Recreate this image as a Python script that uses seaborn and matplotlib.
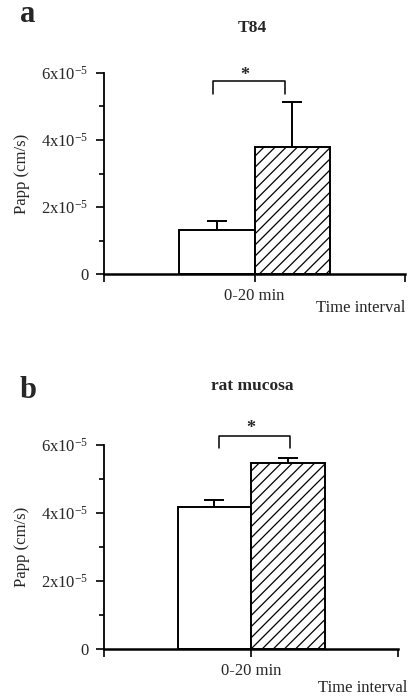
import matplotlib
matplotlib.use("Agg")
import matplotlib.pyplot as plt
from matplotlib.ticker import FixedLocator, FuncFormatter
import seaborn as sns
import pandas as pd

sns.set_theme(style="white")
plt.rcParams["font.family"] = ["Liberation Serif", "DejaVu Serif"]
plt.rcParams["mathtext.fontset"] = "custom"
plt.rcParams["mathtext.rm"] = "Liberation Serif"
plt.rcParams["mathtext.it"] = "Liberation Serif:italic"
plt.rcParams["mathtext.bf"] = "Liberation Serif:bold"
plt.rcParams["hatch.linewidth"] = 0.9

# Data: apparent permeability (Papp, cm/s) in the 0-20 min interval
interval = ["0-20 min"]
groups = ["control", "treated"]
t84_papp = [1.30e-5, 3.78e-5]
t84_sem = [0.28e-5, 1.36e-5]
rat_papp = [4.17e-5, 5.47e-5]
rat_sem = [0.21e-5, 0.15e-5]
y_major = [0, 2e-5, 4e-5, 6e-5]
y_minor = [1e-5, 3e-5, 5e-5]


def fmt(v, pos):
    if v == 0:
        return "0"
    return r"%dx10$^{\mathregular{-5}}$" % round(v / 1e-5)


def panel(ax, values, errors, title, letter, bracket, star, title_y, letter_y):
    df = pd.DataFrame({"interval": interval * 2, "group": groups, "papp": values})
    sns.barplot(data=df, x="interval", y="papp", hue="group",
                palette=["white", "white"], edgecolor="black", linewidth=1.4,
                errorbar=None, legend=False, width=0.8, ax=ax, zorder=2)
    bars = ax.patches[:2]
    bars[1].set_hatch("///")
    for p, e in zip(bars, errors):
        cx = p.get_x() + p.get_width() / 2
        ax.errorbar([cx], [p.get_height()], yerr=[[0], [e]], fmt="none",
                    ecolor="black", elinewidth=1.4, capsize=7.5, capthick=1.4,
                    zorder=1)
    # significance bracket
    cl = bars[0].get_x() + bars[0].get_width() / 2 + bracket[0]
    cr = bars[1].get_x() + bars[1].get_width() / 2 + bracket[1]
    ax.plot([cl, cl, cr, cr], [bracket[3], bracket[2], bracket[2], bracket[3]],
            color="black", lw=1.1, clip_on=False)
    ax.text(star[0], star[1], "*", ha="center", va="center", fontsize=13,
            fontweight="bold", clip_on=False)

    ax.set_xlim(-0.8, 0.8)
    ax.set_ylim(0, 6e-5)
    ax.yaxis.set_major_locator(FixedLocator(y_major))
    ax.yaxis.set_minor_locator(FixedLocator(y_minor))
    ax.yaxis.set_major_formatter(FuncFormatter(fmt))
    ax.set_xticks([-0.8, 0, 0.8])
    ax.set_xticklabels(["", interval[0], ""])
    ax.tick_params(axis="y", which="major", direction="out", length=6, width=1.2,
                   left=True, labelsize=12, pad=5, color="black")
    ax.tick_params(axis="y", which="minor", direction="out", length=3.5, width=1.2,
                   left=True, color="black")
    ax.tick_params(axis="x", direction="out", length=6, width=1.2, bottom=True,
                   labelsize=12, pad=4, color="black")
    for s in ["top", "right"]:
        ax.spines[s].set_visible(False)
    ax.spines["left"].set_linewidth(1.3)
    ax.spines["bottom"].set_linewidth(1.8)
    ax.spines["left"].set_color("black")
    ax.spines["bottom"].set_color("black")
    ax.set_xlabel("")
    ax.set_ylabel("Papp (cm/s)", fontsize=12, labelpad=8)
    ax.grid(False)

    fig = ax.figure
    fig.text(252 / 409, 1 - title_y / 700, title, ha="center", va="center",
             fontsize=12.5, fontweight="bold")
    fig.text(28 / 409, 1 - letter_y / 700, letter, ha="center", va="center",
             fontsize=22, fontweight="bold")


fig = plt.figure(figsize=(4.09, 7.0), dpi=100)
ax_a = fig.add_axes([104 / 409, 1 - 274 / 700, 301 / 409, 201 / 700])
ax_b = fig.add_axes([104 / 409, 1 - 649 / 700, 294 / 409, 204 / 700])

panel(ax_a, t84_papp, t84_sem, "T84", "a",
      bracket=(-0.02, -0.04, 5.76e-5, 5.37e-5), star=(-0.05, 5.93e-5),
      title_y=28, letter_y=15)
panel(ax_b, rat_papp, rat_sem, "rat mucosa", "b",
      bracket=(0.025, 0.014, 6.26e-5, 5.91e-5), star=(0.0, 6.48e-5),
      title_y=386, letter_y=390)

fig.text(405 / 409, 1 - 308 / 700, "Time interval", ha="right", va="center",
         fontsize=12)
fig.text(407 / 409, 1 - 688 / 700, "Time interval", ha="right", va="center",
         fontsize=12)

fig.savefig("out.png", dpi=100, facecolor="white")
